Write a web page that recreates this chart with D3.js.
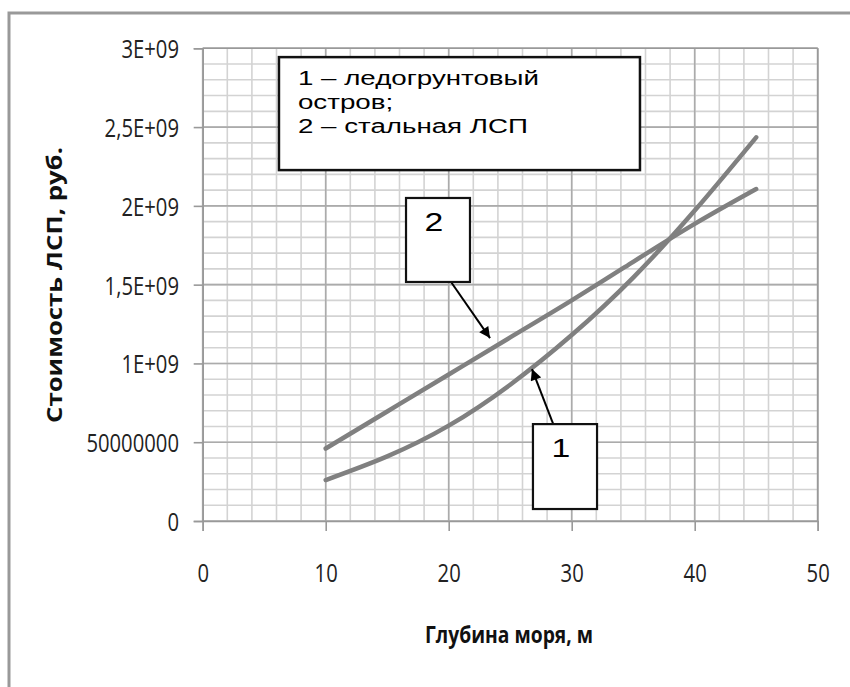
<!DOCTYPE html>
<html>
<head>
<meta charset="utf-8">
<script src="https://cdn.jsdelivr.net/npm/d3@7"></script>
<style>
  body { margin: 0; background: #fff; }
  svg { display: block; }
</style>
</head>
<body>
<svg id="chart" width="850" height="687"></svg>
<script>
// depth of sea, m
var depth = [10, 15, 20, 25, 30, 35, 40, 45];
// 1 - ice-soil island, 2 - steel platform (cost, rub.)
var iceIsland = [0.26e9, 0.41e9, 0.605e9, 0.865e9, 1.18e9, 1.545e9, 1.97e9, 2.435e9];
var steelPlatform = [0.46e9, 0.695e9, 0.93e9, 1.165e9, 1.40e9, 1.645e9, 1.886e9, 2.107e9];

var yTicks = [0, 0.5e9, 1e9, 1.5e9, 2e9, 2.5e9, 3e9];
var yTickLabels = ["0", "50000000", "1E+09", "1,5E+09", "2E+09", "2,5E+09", "3E+09"];
var xTicks = [0, 10, 20, 30, 40, 50];

var legendLines = ["1 \u2013 ледогрунтовый", "остров;", "2 \u2013 стальная ЛСП"];

var svg = d3.select("#chart");
var margin = {top: 48.3, right: 32.3, bottom: 166, left: 202.7};
var width = +svg.attr("width") - margin.left - margin.right,
    height = +svg.attr("height") - margin.top - margin.bottom;

var x = d3.scaleLinear().domain([0, 50]).range([0, width]);
var y = d3.scaleLinear().domain([0, 3e9]).range([height, 0]);

var tickFont = "'Open Sans', 'Noto Sans', sans-serif";
var squeeze = "scale(0.81,1.05)"; // Calibri-like narrow look

// outer frame (only top and left edges are visible)
svg.append("path")
    .attr("d", "M9,687 L9,13 L850,13")
    .attr("fill", "none")
    .attr("stroke", "#999")
    .attr("stroke-width", 3);

var g = svg.append("g")
    .attr("transform", "translate(" + margin.left + "," + margin.top + ")");

// minor grid
var xMinor = d3.range(0, 51, 2), yMinor = d3.range(0, 3.01e9, 1e8);
g.append("g").selectAll("line").data(xMinor).join("line")
    .attr("x1", d => x(d)).attr("x2", d => x(d))
    .attr("y1", 0).attr("y2", height)
    .attr("stroke", "#d3d3d3").attr("stroke-width", 1.6);
g.append("g").selectAll("line").data(yMinor).join("line")
    .attr("x1", 0).attr("x2", width)
    .attr("y1", d => y(d)).attr("y2", d => y(d))
    .attr("stroke", "#d3d3d3").attr("stroke-width", 1.6);

// major grid
g.append("g").selectAll("line").data(xTicks).join("line")
    .attr("x1", d => x(d)).attr("x2", d => x(d))
    .attr("y1", 0).attr("y2", height)
    .attr("stroke", "#ababab").attr("stroke-width", 1.6);
g.append("g").selectAll("line").data(yTicks).join("line")
    .attr("x1", 0).attr("x2", width)
    .attr("y1", d => y(d)).attr("y2", d => y(d))
    .attr("stroke", "#ababab").attr("stroke-width", 1.6);

// axes
var yAxis = g.append("g")
    .call(d3.axisLeft(y).tickValues(yTicks).tickSize(9)
        .tickFormat((d, i) => yTickLabels[i]));
var xAxis = g.append("g")
    .attr("transform", "translate(0," + height + ")")
    .call(d3.axisBottom(x).tickValues(xTicks).tickSize(10));
[xAxis, yAxis].forEach(function (a) {
    a.select(".domain").attr("stroke", "#999").attr("stroke-width", 1.6);
    a.selectAll(".tick line").attr("stroke", "#999").attr("stroke-width", 1.6);
    a.selectAll("text")
        .attr("fill", "#222")
        .style("font-family", tickFont)
        .style("font-size", "25px");
});
yAxis.selectAll("text")
    .attr("x", 0).attr("dy", "0.357em")
    .attr("transform", "translate(-23.7,0) " + squeeze);
xAxis.selectAll("text")
    .attr("y", 0).attr("dy", 0)
    .attr("transform", "translate(0,61) " + squeeze);

// right and top edges of plot area
g.append("line")
    .attr("x1", width).attr("x2", width).attr("y1", 0).attr("y2", height)
    .attr("stroke", "#999").attr("stroke-width", 1.6);
g.append("line")
    .attr("x1", 0).attr("x2", width).attr("y1", 0).attr("y2", 0)
    .attr("stroke", "#999").attr("stroke-width", 1.6);

// curves
var line = d3.line()
    .x(d => x(d[0]))
    .y(d => y(d[1]))
    .curve(d3.curveNatural);

[iceIsland, steelPlatform].forEach(function (vals) {
    g.append("path")
        .datum(depth.map((d, i) => [d, vals[i]]))
        .attr("d", line)
        .attr("fill", "none")
        .attr("stroke", "#808080")
        .attr("stroke-width", 4.5)
        .attr("stroke-linecap", "round");
});

// axis titles
svg.append("text")
    .attr("x", 509).attr("y", 643)
    .attr("text-anchor", "middle")
    .attr("textLength", 168)
    .attr("lengthAdjust", "spacingAndGlyphs")
    .style("font-family", tickFont)
    .style("font-weight", "bold")
    .style("font-size", "24px")
    .attr("fill", "#111")
    .text("Глубина моря, м");

svg.append("text")
    .attr("transform", "translate(62,285) rotate(-90)")
    .attr("text-anchor", "middle")
    .attr("textLength", 276)
    .attr("lengthAdjust", "spacingAndGlyphs")
    .style("font-family", tickFont)
    .style("font-weight", "bold")
    .style("font-size", "22px")
    .attr("fill", "#111")
    .text("Стоимость ЛСП, руб.");

// annotations (anchored in data coordinates)
var legendBox = {x0: 6.2, x1: 35.55, y0: 2.944e9, y1: 2.227e9};
var box2 = {x0: 16.53, x1: 21.73, y0: 2.05e9, y1: 1.517e9, label: "2", tail: [20.19, 1.517e9], tip: [23.36, 1.161e9]};
var box1 = {x0: 26.85, x1: 32.06, y0: 0.615e9, y1: 0.076e9, label: "1", tail: [28.5, 0.615e9], tip: [26.77, 0.964e9]};

svg.append("defs").append("marker")
    .attr("id", "arrow")
    .attr("viewBox", "0 0 10 10")
    .attr("refX", 10).attr("refY", 5)
    .attr("markerWidth", 6.5).attr("markerHeight", 5.5)
    .attr("markerUnits", "strokeWidth")
    .attr("orient", "auto")
    .append("path")
    .attr("d", "M0,0 L10,5 L0,10 Z")
    .attr("fill", "#000");

var shapeFont = "'Liberation Sans', Arial, sans-serif";

[box2, box1].forEach(function (b) {
    g.append("line")
        .attr("x1", x(b.tail[0])).attr("y1", y(b.tail[1]))
        .attr("x2", x(b.tip[0])).attr("y2", y(b.tip[1]))
        .attr("stroke", "#000").attr("stroke-width", 2)
        .attr("marker-end", "url(#arrow)");
    g.append("rect")
        .attr("x", x(b.x0)).attr("y", y(b.y0))
        .attr("width", x(b.x1) - x(b.x0)).attr("height", y(b.y1) - y(b.y0))
        .attr("fill", "#fff").attr("stroke", "#111").attr("stroke-width", 2.2);
    g.append("text")
        .attr("transform", "translate(" + ((x(b.x0) + x(b.x1)) / 2 - 4) + "," + (y(b.y0) + 33) + ") scale(1.3,1)")
        .attr("text-anchor", "middle")
        .style("font-family", shapeFont)
        .style("font-size", "26px")
        .attr("fill", "#000")
        .text(b.label);
});

g.append("rect")
    .attr("x", x(legendBox.x0)).attr("y", y(legendBox.y0))
    .attr("width", x(legendBox.x1) - x(legendBox.x0))
    .attr("height", y(legendBox.y1) - y(legendBox.y0))
    .attr("fill", "#fff").attr("stroke", "#111").attr("stroke-width", 2.5);

g.selectAll(".legend-line").data(legendLines).join("text")
    .attr("class", "legend-line")
    .attr("transform", (d, i) => "translate(" + (x(legendBox.x0) + 19) + "," + (y(legendBox.y0) + 28 + i * 24) + ") scale(1.32,1)")
    .style("font-family", shapeFont)
    .style("font-size", "21px")
    .attr("fill", "#000")
    .text(d => d);
</script>
</body>
</html>
